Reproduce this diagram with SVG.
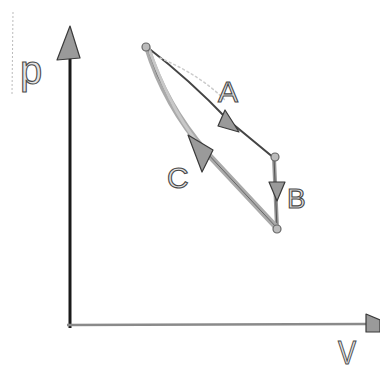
<svg xmlns="http://www.w3.org/2000/svg" width="380" height="373" viewBox="0 0 380 373">
<style>
.lbl{font-family:"Liberation Sans",Arial,sans-serif;fill:#e4e4e4;stroke:#4a4a4a;stroke-width:1.1;}
.head{fill:#9a9a9a;stroke:#3a3a3a;stroke-width:1.2;stroke-linejoin:round;}
.node{fill:#bbb;stroke:#666;stroke-width:1.2;}
</style>
<rect width="380" height="373" fill="#fff"/>
<line x1="13" y1="12" x2="12" y2="95" stroke="#bbb" stroke-width="1" stroke-dasharray="2 2"/>
<g id="axes">
<line x1="70" y1="58" x2="70" y2="328" stroke="#1a1a1a" stroke-width="3"/>
<polygon class="head" points="70,26 57,60 80,58" fill="#d0d0d0"/>
<line x1="67" y1="325" x2="366" y2="324" stroke="#8a8a8a" stroke-width="2.5"/>
<polygon class="head" points="366,314 380,320 380,332 366,332" fill="#d0d0d0"/>
</g>
<g id="connectors" fill="none" stroke-linecap="round">
<path d="M147,47 Q190,80 228,120 L274,158" stroke="#444" stroke-width="2"/>
<path d="M160,58 Q200,75 225,100" stroke="#ccc" stroke-width="1.5" stroke-dasharray="2 3"/>
<path d="M274,158 L277,228" stroke="#999" stroke-width="4"/>
<path d="M274,158 L277,228" stroke="#555" stroke-width="1"/>
<path d="M277,228 L206,152 Q165,105 147,47" stroke="#aaa" stroke-width="6"/>
<path d="M277,228 L206,152 Q165,105 147,47" stroke="#666" stroke-width="1"/>
<path d="M150,52 Q175,120 206,152" stroke="#c8c8c8" stroke-width="3"/>
</g>
<g id="arrowA"><polygon class="head" points="225,110 218,126 239,132"/></g>
<g id="arrowB"><polygon class="head" points="269,182 285,182 277,201"/></g>
<g id="arrowC"><polygon class="head" points="188,135 213,150 202,172"/></g>
<g id="node1"><circle class="node" cx="146" cy="47" r="4"/></g>
<g id="node2"><circle class="node" cx="275" cy="157" r="4"/></g>
<g id="node3"><circle class="node" cx="277" cy="229" r="4"/></g>
<text class="lbl" x="218" y="102" font-size="30">A</text>
<text class="lbl" x="287" y="208" font-size="28">B</text>
<text class="lbl" x="167" y="188" font-size="30">C</text>
<text class="lbl" x="20" y="84" font-size="40">p</text>
<text class="lbl" x="338" y="364" font-size="34" transform="translate(338,364) scale(0.8,1) translate(-338,-364)">V</text>
</svg>
